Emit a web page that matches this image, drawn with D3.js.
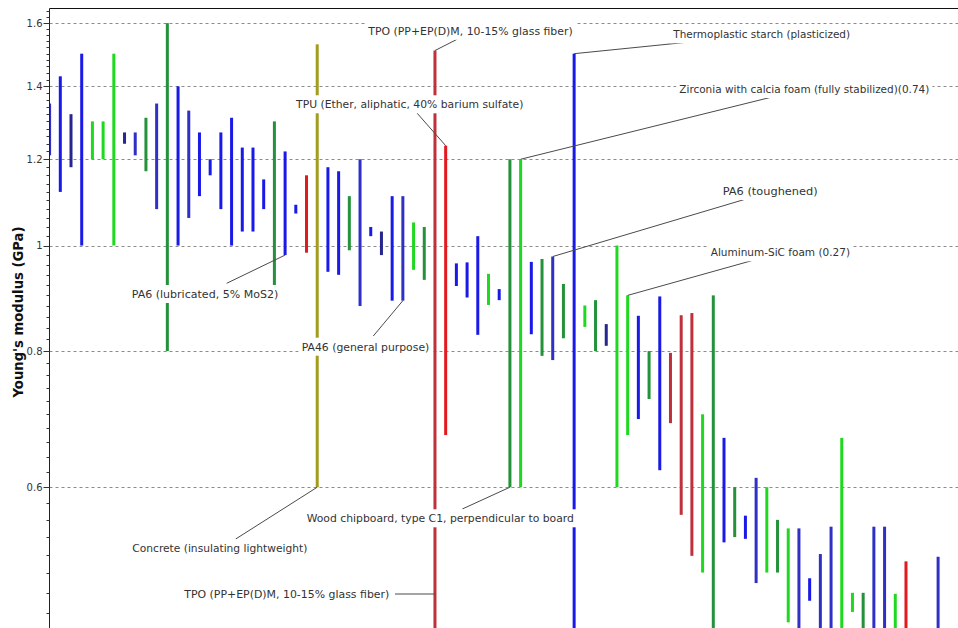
<!DOCTYPE html>
<html>
<head>
<meta charset="utf-8">
<script src="https://cdn.jsdelivr.net/npm/d3@7"></script>
<style>
  html, body { margin: 0; padding: 0; background: #fff; }
  svg { display: block; }
  text { font-family: "DejaVu Sans", Verdana, sans-serif; }
</style>
</head>
<body>
<svg id="chart" width="958" height="628"></svg>
<script>
// Young's modulus range (GPa) of each material, in plotting order.
const slot = [-1, 0, 1, 2, 3, 4, 5, 6, 7, 8, 9, 10, 11, 12, 13, 14, 15, 16, 17, 18, 19,
  20, 21, 22, 23, 24, 25, 26, 27, 28, 29, 30, 31, 32, 33, 34, 35, 36, 37, 38, 39,
  40, 41, 42, 43, 44, 45, 46, 47, 48, 49, 50, 51, 52, 53, 54, 55, 56, 57, 58, 59,
  60, 61, 62, 63, 64, 65, 66, 67, 68, 69, 70, 71, 72, 73, 74, 75, 76, 77, 78, 79, 82];

const modulusHigh = [1.35, 1.43, 1.32, 1.50, 1.30, 1.30, 1.50, 1.27, 1.27, 1.31, 1.35, 1.60,
  1.40, 1.33, 1.27, 1.20, 1.27, 1.31, 1.23, 1.23, 1.15, 1.30, 1.22, 1.09, 1.16, 1.53,
  1.18, 1.17, 1.11, 1.20, 1.04, 1.03, 1.11, 1.11, 1.05, 1.04, 1.51, 1.235, 0.963, 0.965,
  1.02, 0.942, 0.912, 1.20, 1.20, 0.966, 0.972, 0.977, 0.922, 1.50, 0.881, 0.891, 0.847,
  1.00, 0.90, 0.862, 0.80, 0.898, 0.797, 0.863, 0.867, 0.70, 0.90, 0.666, 0.60, 0.565,
  0.612, 0.60, 0.56, 0.55, 0.55, 0.495, 0.521, 0.552, 0.666, 0.48, 0.48, 0.552, 0.552,
  0.479, 0.513, 0.518];

const modulusLow = [1.21, 1.12, 1.18, 1.00, 1.20, 1.20, 1.00, 1.24, 1.21, 1.17, 1.08, 0.80,
  1.00, 1.06, 1.11, 1.16, 1.08, 1.00, 1.03, 1.03, 1.08, 0.92, 0.98, 1.07, 0.985, 0.60,
  0.946, 0.94, 0.99, 0.88, 1.02, 0.98, 0.89, 0.89, 0.95, 0.93, 0.42, 0.67, 0.918, 0.896,
  0.828, 0.882, 0.891, 0.60, 0.60, 0.829, 0.792, 0.785, 0.822, 0.42, 0.842, 0.80, 0.809,
  0.60, 0.67, 0.693, 0.723, 0.622, 0.687, 0.566, 0.519, 0.501, 0.43, 0.534, 0.54, 0.538,
  0.49, 0.501, 0.501, 0.451, 0.43, 0.472, 0.43, 0.43, 0.43, 0.461, 0.43, 0.43, 0.43,
  0.43, 0.43, 0.43];

// Material family of each bar (drives its colour).
const family = ["S", "B", "N", "B", "L", "L", "L", "N", "S", "G", "S", "G", "B", "S", "B", "B",
  "B", "B", "B", "B", "B", "G", "B", "B", "R", "O", "B", "B", "G", "S", "B", "N", "B", "S",
  "L", "G", "D", "R", "B", "B", "B", "L", "B", "G", "L", "B", "G", "S", "G", "B", "L", "G",
  "N", "L", "L", "B", "G", "B", "D", "D", "D", "L", "G", "B", "G", "B", "S", "L", "G", "L",
  "S", "B", "S", "S", "L", "L", "G", "S", "S", "L", "R", "S"];

// Axis ticks
const majorTicks = [0.6, 0.8, 1, 1.2, 1.4, 1.6];
const tickLabels = ["0.6", "0.8", "1", "1.2", "1.4", "1.6"];
const axisTitle = "Young's modulus (GPa)";

// Annotated materials: label text, bar slot, end of the bar the leader points to.
const calloutText = [
  "TPO (PP+EP(D)M, 10-15% glass fiber)",
  "Thermoplastic starch (plasticized)",
  "TPU (Ether, aliphatic, 40% barium sulfate)",
  "Zirconia with calcia foam (fully stabilized)(0.74)",
  "PA6 (toughened)",
  "Aluminum-SiC foam (0.27)",
  "PA6 (lubricated, 5% MoS2)",
  "PA46 (general purpose)",
  "Concrete (insulating lightweight)",
  "Wood chipboard, type C1, perpendicular to board",
  "TPO (PP+EP(D)M, 10-15% glass fiber)"
];
const calloutSlot = [35, 48, 36, 43, 46, 53, 21, 32, 24, 42, 35];
const calloutEnd = ["hi", "hi", "hi", "hi", "hi", "hi", "lo", "lo", "lo", "lo", "side"];

// Label placement (label centre, text width, leader start), in pixels.
const calloutLayout = [
  { cx: 470.5, cy: 30.7, w: 204.4, lx: 456.7, ly: 39.5 },
  { cx: 761.7, cy: 34.3, w: 176.7, lx: 686.7, ly: 42.3 },
  { cx: 409.7, cy: 104.3, w: 227.3, lx: 416.7, ly: 112.7 },
  { cx: 804.3, cy: 89.0, w: 250.0, lx: 773.3, ly: 96.7 },
  { cx: 770.2, cy: 191.0, w: 95.0, lx: 745.0, ly: 199.3 },
  { cx: 780.4, cy: 252.3, w: 139.3, lx: 751.7, ly: 260.7 },
  { cx: 205.0, cy: 294.0, w: 146.6, lx: 226.7, ly: 283.3 },
  { cx: 365.5, cy: 346.7, w: 127.6, lx: 373.3, ly: 336.0 },
  { cx: 219.8, cy: 548.3, w: 175.0, lx: 235.7, ly: 539.0 },
  { cx: 440.3, cy: 518.3, w: 267.3, lx: 462.3, ly: 509.0 },
  { cx: 286.8, cy: 594.0, w: 205.0, lx: 395.0, ly: 594.0 }
];

const palette = {
  B: "#1a1ae8", S: "#3030c6", N: "#26268f", L: "#1fd91f",
  G: "#23923a", R: "#e3191e", D: "#bf303b", O: "#a39c1f"
};

const W = 958, H = 628;
const plot = { left: 49.5, top: 8.5, right: W, bottom: H };

const svg = d3.select("#chart");

const x = d3.scaleLinear().domain([0, 82]).range([60.3, 938.1]);
const y = d3.scaleLog().domain([0.4456, 1.651]).range([H, 8.3]);

svg.append("defs").append("clipPath").attr("id", "plotClip")
  .append("rect")
  .attr("x", plot.left + 0.5).attr("y", plot.top)
  .attr("width", plot.right - plot.left).attr("height", plot.bottom - plot.top);

// Dashed gridlines at the major ticks
svg.append("g").selectAll("line").data(majorTicks).join("line")
  .attr("x1", plot.left).attr("x2", plot.right)
  .attr("y1", d => Math.round(y(d)) + 0.5).attr("y2", d => Math.round(y(d)) + 0.5)
  .attr("stroke", "#8c8c8c").attr("stroke-width", 1)
  .attr("stroke-dasharray", "3,3");

// Range bars
const bars = slot.map((s, i) => ({ s, hi: modulusHigh[i], lo: modulusLow[i], f: family[i] }));
svg.append("g").attr("clip-path", "url(#plotClip)")
  .selectAll("rect").data(bars).join("rect")
  .attr("x", d => x(d.s) - 1.5)
  .attr("width", 3)
  .attr("y", d => y(d.hi))
  .attr("height", d => y(d.lo) - y(d.hi))
  .attr("fill", d => palette[d.f]);

// Callouts: leader line, white label box, text
const callouts = calloutText.map((t, i) => {
  const s = calloutSlot[i];
  const L = calloutLayout[i];
  let tx = x(s), ty;
  if (calloutEnd[i] === "hi") ty = y(modulusHigh[slot.indexOf(s)]);
  else if (calloutEnd[i] === "lo") ty = y(modulusLow[slot.indexOf(s)]);
  else ty = L.ly;
  return { t, tx, ty, ...L };
});

const cg = svg.append("g");
cg.selectAll("line").data(callouts).join("line")
  .attr("x1", d => d.lx).attr("y1", d => d.ly)
  .attr("x2", d => d.tx).attr("y2", d => d.ty)
  .attr("stroke", "#4a4a4a").attr("stroke-width", 1);

cg.selectAll("rect").data(callouts).join("rect")
  .attr("x", d => d.cx - d.w / 2 - 3).attr("y", d => d.cy - 9)
  .attr("width", d => d.w + 6).attr("height", 18)
  .attr("fill", "#fff");

cg.selectAll("text").data(callouts).join("text")
  .attr("x", d => d.cx - d.w / 2).attr("y", d => d.cy)
  .attr("dy", "0.36em")
  .attr("font-size", 11)
  .attr("fill", "#333")
  .attr("textLength", d => d.w)
  .attr("lengthAdjust", "spacingAndGlyphs")
  .text(d => d.t);

// Frame: top border and the value axis
svg.append("line")
  .attr("x1", plot.left).attr("x2", W).attr("y1", plot.top).attr("y2", plot.top)
  .attr("stroke", "#111").attr("stroke-width", 1);

const minorTicks = d3.range(46, 165, 2).map(v => v / 100)
  .filter(v => !majorTicks.some(m => Math.abs(m - v) < 1e-9));

const axis = svg.append("g");
axis.append("line")
  .attr("x1", plot.left).attr("x2", plot.left).attr("y1", plot.top).attr("y2", H)
  .attr("stroke", "#222").attr("stroke-width", 1);
axis.selectAll("line.minor").data(minorTicks).join("line").attr("class", "minor")
  .attr("x1", plot.left - 3).attr("x2", plot.left)
  .attr("y1", d => Math.round(y(d)) + 0.5).attr("y2", d => Math.round(y(d)) + 0.5)
  .attr("stroke", "#333");
axis.selectAll("line.major").data(majorTicks).join("line").attr("class", "major")
  .attr("x1", plot.left - 6).attr("x2", plot.left)
  .attr("y1", d => Math.round(y(d)) + 0.5).attr("y2", d => Math.round(y(d)) + 0.5)
  .attr("stroke", "#333");
axis.selectAll("text").data(majorTicks).join("text")
  .attr("x", plot.left - 7).attr("y", d => y(d))
  .attr("dy", "0.36em")
  .attr("text-anchor", "end")
  .attr("font-size", 10)
  .attr("fill", "#333340")
  .text((d, i) => tickLabels[i]);

svg.append("text")
  .attr("transform", "translate(23,312) rotate(-90)")
  .attr("text-anchor", "middle")
  .attr("font-size", 14)
  .attr("font-weight", "bold")
  .attr("fill", "#111")
  .attr("textLength", 171)
  .attr("lengthAdjust", "spacingAndGlyphs")
  .text(axisTitle);
</script>
</body>
</html>
